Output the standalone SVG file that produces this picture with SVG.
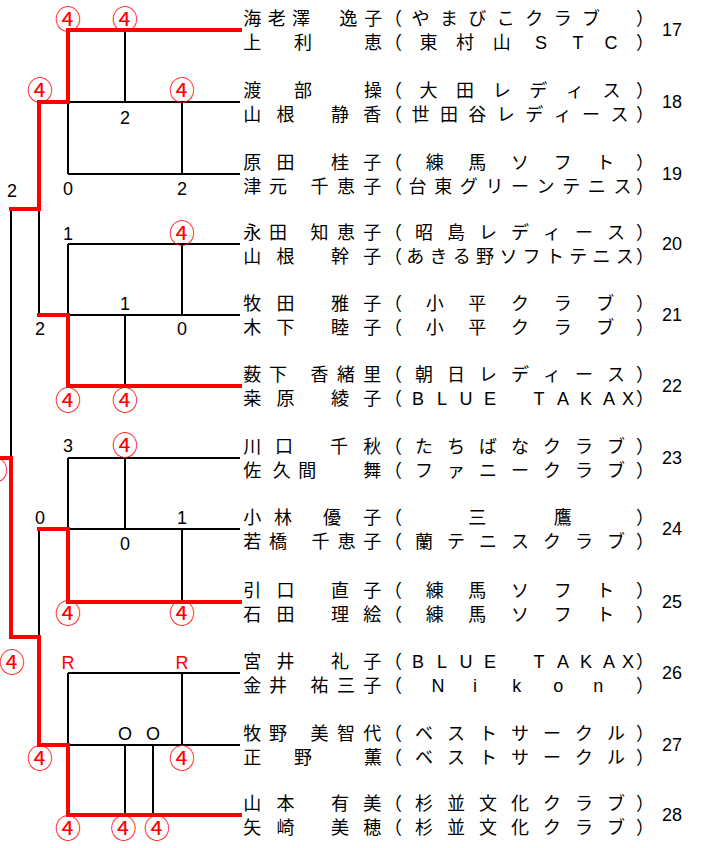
<svg xmlns="http://www.w3.org/2000/svg" width="701" height="848" viewBox="0 0 701 848">
<style>
.k{stroke:#000;stroke-width:2;fill:none}
.r{stroke:#f00;stroke-width:4;fill:none;stroke-linejoin:miter;stroke-linecap:square}
.nm{font-family:"Liberation Sans","Noto Sans CJK JP",sans-serif;font-size:18px;fill:#000;text-anchor:middle}
.no{font-family:"Liberation Sans",sans-serif;font-size:18px;fill:#000;text-anchor:middle}
.sc{font-family:"Liberation Sans",sans-serif;font-size:18px;fill:#000;text-anchor:middle}
.red{fill:#f00}
.w{font-family:"Noto Sans CJK JP",sans-serif;font-size:26px;fill:#f00;text-anchor:middle}
</style>
<rect width="701" height="848" fill="#fff"/>
<g id="connectors">
<g id="black-lines">
<path class="k" d="M68,102H240M68,174H240M68,102V174M125,30V102M182,102V174"/>
<path class="k" d="M68,244H240M68,315H240M68,244V315M182,244V315M125,315V386"/>
<path class="k" d="M68,458H240M68,529H240M68,458V529M125,458V529M182,529V602"/>
<path class="k" d="M68,673H240M68,745H240M68,673V745M182,673V745M125,745V815M153,745V815"/>
<path class="k" d="M39,209V315M39,529V637M11,209V458"/>
</g>
<g id="red-lines">
<path class="r" d="M240,30H68V102H39V209H11"/>
<path class="r" d="M240,386H68V315H39"/>
<path class="r" d="M240,602H68V529H39"/>
<path class="r" d="M-5,458H11V637H39V745H68V815H240"/>
</g>
</g>
<g id="scores">
<text class="w" x="68" y="29">④</text>
<text class="w" x="125" y="29">④</text>
<text class="w" x="40" y="100">④</text>
<text class="w" x="182" y="100">④</text>
<text class="w" x="182" y="243">④</text>
<text class="w" x="68" y="410">④</text>
<text class="w" x="125" y="410">④</text>
<text class="w" x="125" y="455">④</text>
<text class="w" x="68" y="623">④</text>
<text class="w" x="182" y="623">④</text>
<text class="w" x="-5" y="480">④</text>
<text class="w" x="12" y="672">④</text>
<text class="w" x="40" y="768">④</text>
<text class="w" x="182" y="768">④</text>
<text class="w" x="68" y="838">④</text>
<text class="w" x="123.5" y="838">④</text>
<text class="w" x="157" y="838">④</text>
<text class="sc" x="125" y="123.5">2</text>
<text class="sc" x="68" y="194.5">0</text>
<text class="sc" x="182" y="194.5">2</text>
<text class="sc" x="12" y="196.5">2</text>
<text class="sc" x="68" y="239.5">1</text>
<text class="sc" x="125" y="309.5">1</text>
<text class="sc" x="40" y="334.5">2</text>
<text class="sc" x="182" y="334.5">0</text>
<text class="sc" x="68" y="451.5">3</text>
<text class="sc" x="40" y="523.5">0</text>
<text class="sc" x="182" y="523.5">1</text>
<text class="sc" x="125" y="549.5">0</text>
<text class="sc" x="125" y="739.5">O</text>
<text class="sc" x="153" y="739.5">O</text>
<text class="sc red" x="68" y="668.5">R</text>
<text class="sc red" x="182" y="668.5">R</text>
</g>
<g id="entry-17">
<text class="nm" x="252.3 276.7 301 348.3 373.3 393 420.4 448.9 477.3 505.8 534.2 562.7 591.1 645" y="25">海老澤逸子（やまびこクラブ）</text>
<text class="nm" x="252.3 303 373 393 428.6 465.1 501.7 541 578 611 645" y="49">上利恵（東村山STC）</text>
<text class="no" x="672" y="36">17</text>
</g>
<g id="entry-18">
<text class="nm" x="252.3 303 373 393 428.6 465.1 501.7 538.3 574.9 611.4 645" y="97">渡部操（大田レディス）</text>
<text class="nm" x="252.3 285.5 340 372.3 393 420.4 448.9 477.3 505.8 534.2 562.7 591.1 619.6 645" y="121">山根静香（世田谷レディース）</text>
<text class="no" x="672" y="108">18</text>
</g>
<g id="entry-19">
<text class="nm" x="252.3 285.5 340 372.3 393 434.7 477.3 520 562.7 605.3 645" y="169">原田桂子（練馬ソフト）</text>
<text class="nm" x="252.3 278 319.5 346 372.3 393 417.6 443.2 468.8 494.4 520 545.6 571.2 596.8 622.4 645" y="193">津元千恵子（台東グリーンテニス）</text>
<text class="no" x="672" y="180">19</text>
</g>
<g id="entry-20">
<text class="nm" x="252.3 278 319.5 346 372.3 393 424 456 488 520 552 584 616 645" y="239">永田知恵子（昭島レディース）</text>
<text class="nm" x="252.3 285.5 340 372.3 393 415.3 438.5 461.8 485.1 508.4 531.6 554.9 578.2 601.5 624.7 645" y="263">山根幹子（あきる野ソフトテニス）</text>
<text class="no" x="672" y="250">20</text>
</g>
<g id="entry-21">
<text class="nm" x="252.3 285.5 340 372.3 393 434.7 477.3 520 562.7 605.3 645" y="310">牧田雅子（小平クラブ）</text>
<text class="nm" x="252.3 285.5 340 372.3 393 434.7 477.3 520 562.7 605.3 645" y="334">木下睦子（小平クラブ）</text>
<text class="no" x="672" y="321">21</text>
</g>
<g id="entry-22">
<text class="nm" x="252.3 278 319.5 346 372.3 393 424 456 488 520 552 584 616 645" y="381">薮下香緒里（朝日レディース）</text>
<text class="nm" x="252.3 285.5 340 372.3 393 418 442 466 490 515 539 563 586 609 628 645" y="405">桒原綾子（BLUE TAKAX）</text>
<text class="no" x="672" y="392">22</text>
</g>
<g id="entry-23">
<text class="nm" x="252.3 284 339 372.3 393 424 456 488 520 552 584 616 645" y="453">川口千秋（たちばなクラブ）</text>
<text class="nm" x="252.3 281.7 307.3 372.3 393 424 456 488 520 552 584 616 645" y="477">佐久間舞（ファニークラブ）</text>
<text class="no" x="672" y="464">23</text>
</g>
<g id="entry-24">
<text class="nm" x="252.3 283 332 372.3 393 477.3 562.7 645" y="524">小林優子（三鷹）</text>
<text class="nm" x="252.3 278 320.5 346.5 372.3 393 424 456 488 520 552 584 616 645" y="548">若橋千恵子（蘭テニスクラブ）</text>
<text class="no" x="672" y="535">24</text>
</g>
<g id="entry-25">
<text class="nm" x="252.3 285.5 340 372.3 393 434.7 477.3 520 562.7 605.3 645" y="597">引口直子（練馬ソフト）</text>
<text class="nm" x="252.3 285.5 340 372.3 393 434.7 477.3 520 562.7 605.3 645" y="621">石田理絵（練馬ソフト）</text>
<text class="no" x="672" y="608">25</text>
</g>
<g id="entry-26">
<text class="nm" x="252.3 285.5 340 372.3 393 418 442 466 490 515 539 563 586 609 628 645" y="668">宮井礼子（BLUE TAKAX）</text>
<text class="nm" x="252.3 278 319.5 346 372.3 393 438 475 516.7 558.3 598.3 645" y="692">金井祐三子（Nikon）</text>
<text class="no" x="672" y="679">26</text>
</g>
<g id="entry-27">
<text class="nm" x="252.3 278 319.5 346 372.3 393 424 456 488 520 552 584 616 645" y="740">牧野美智代（ベストサークル）</text>
<text class="nm" x="252.3 303 373 393 424 456 488 520 552 584 616 645" y="764">正野薫（ベストサークル）</text>
<text class="no" x="672" y="751">27</text>
</g>
<g id="entry-28">
<text class="nm" x="252.3 285.5 340 372.3 393 424 456 488 520 552 584 616 645" y="810">山本有美（杉並文化クラブ）</text>
<text class="nm" x="252.3 285.5 340 372.3 393 424 456 488 520 552 584 616 645" y="834">矢崎美穂（杉並文化クラブ）</text>
<text class="no" x="672" y="821">28</text>
</g>
</svg>
